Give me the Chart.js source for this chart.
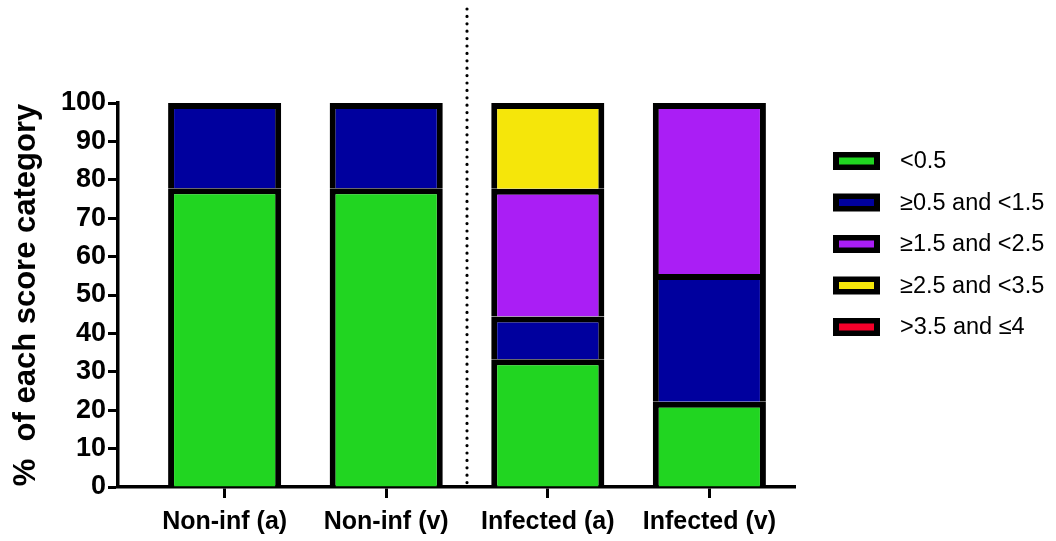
<!DOCTYPE html>
<html>
<head>
<meta charset="utf-8">
<script src="https://cdn.jsdelivr.net/npm/chart.js@4.4.1/dist/chart.umd.min.js"></script>
<style>
  html, body { margin: 0; padding: 0; background: #fff; }
  #wrap { width: 1056px; height: 541px; }
</style>
</head>
<body>
<div id="wrap"><canvas id="chart" width="1056" height="541"></canvas></div>
<script>
// categories and stacked percentages (bottom to top)
const categories = ['Non-inf (a)', 'Non-inf (v)', 'Infected (a)', 'Infected (v)'];
const seriesLabels = ['<0.5', '\u22650.5 and <1.5', '\u22651.5 and <2.5', '\u22652.5 and <3.5', '>3.5 and \u22644'];
const lt05 = [77.8, 77.8, 33.3, 22.2];
const from05to15 = [22.2, 22.2, 11.1, 33.3];
const from15to25 = [0, 0, 33.3, 44.5];
const from25to35 = [0, 0, 22.3, 0];
const from35to4 = [0, 0, 0, 0];
const yTicks = [0, 10, 20, 30, 40, 50, 60, 70, 80, 90, 100];
const colors = ['#21d521', '#00009e', '#aa1ef5', '#f5e60a', '#f5002a'];

const series = [lt05, from05to15, from15to25, from25to35, from35to4];

const datasets = series.map(function(vals, i) {
    return {
        label: seriesLabels[i],
        data: vals.map(function(v, j) { return { x: j, y: v }; }),
        backgroundColor: colors[i],
        borderColor: '#000',
        borderWidth: 6,
        borderSkipped: 'bottom',
        barPercentage: 0.7,
        categoryPercentage: 1
    };
});

// dotted separator between the two groups + legend on the right
const extras = {
    id: 'extras',
    afterDraw: function(chart) {
        const ctx = chart.ctx;
        const x = chart.scales.x.getPixelForValue(1.5);
        const bottom = chart.scales.y.getPixelForValue(0);
        ctx.save();
        ctx.strokeStyle = '#000';
        ctx.lineWidth = 3.2;
        ctx.lineCap = 'round';
        ctx.setLineDash([0, 7.4]);
        ctx.beginPath();
        ctx.moveTo(x, 9);
        ctx.lineTo(x, bottom - 2);
        ctx.stroke();
        ctx.restore();

        ctx.save();
        ctx.font = '23.5px "Liberation Sans", Arial, sans-serif';
        ctx.textBaseline = 'middle';
        chart.data.datasets.forEach(function(ds, i) {
            const cy = 161 + i * 41.5;
            ctx.fillStyle = '#000';
            ctx.fillRect(833, cy - 9, 47, 18);
            ctx.fillStyle = ds.backgroundColor;
            ctx.fillRect(839, cy - 3.5, 35, 7);
            ctx.fillStyle = '#000';
            ctx.fillText(ds.label, 900, cy + 1);
        });
        ctx.restore();
    }
};

new Chart(document.getElementById('chart'), {
    type: 'bar',
    data: { datasets: datasets },
    options: {
        responsive: false,
        animation: false,
        layout: { padding: { top: 103, right: 261, left: 0, bottom: 0 } },
        plugins: {
            legend: { display: false },
            tooltip: { enabled: false }
        },
        scales: {
            x: {
                type: 'linear',
                stacked: true,
                offset: false,
                min: -0.66,
                max: 3.53,
                afterFit: function(scale) { scale.height = 54; },
                afterBuildTicks: function(scale) { scale.ticks = categories.map(function(c, i) { return { value: i }; }); },
                border: { color: '#000', width: 3.5 },
                grid: { offset: false, drawOnChartArea: false, color: '#000', tickColor: '#000', tickWidth: 3, tickLength: 11 },
                ticks: {
                    color: '#000',
                    padding: 9,
                    maxRotation: 0,
                    autoSkip: false,
                    font: { family: '"Liberation Sans", Arial, sans-serif', size: 25, weight: 'bold' },
                    callback: function(v) { return categories[v] !== undefined ? categories[v] : ''; }
                }
            },
            y: {
                stacked: true,
                min: 0,
                max: 100,
                afterFit: function(scale) { scale.width = 118; },
                afterBuildTicks: function(scale) { scale.ticks = yTicks.map(function(v) { return { value: v }; }); },
                border: { color: '#000', width: 3.5 },
                grid: { drawOnChartArea: false, color: '#000', tickColor: '#000', tickWidth: 3, tickLength: 10 },
                ticks: {
                    color: '#000',
                    padding: 2,
                    font: { family: '"Liberation Sans", Arial, sans-serif', size: 27, weight: 'bold' }
                },
                title: {
                    display: true,
                    text: '%  of each score category',
                    color: '#000',
                    padding: { top: 8, bottom: 0 },
                    font: { family: '"Liberation Sans", Arial, sans-serif', size: 31, weight: 'bold' }
                }
            }
        }
    },
    plugins: [extras]
});
</script>
</body>
</html>
